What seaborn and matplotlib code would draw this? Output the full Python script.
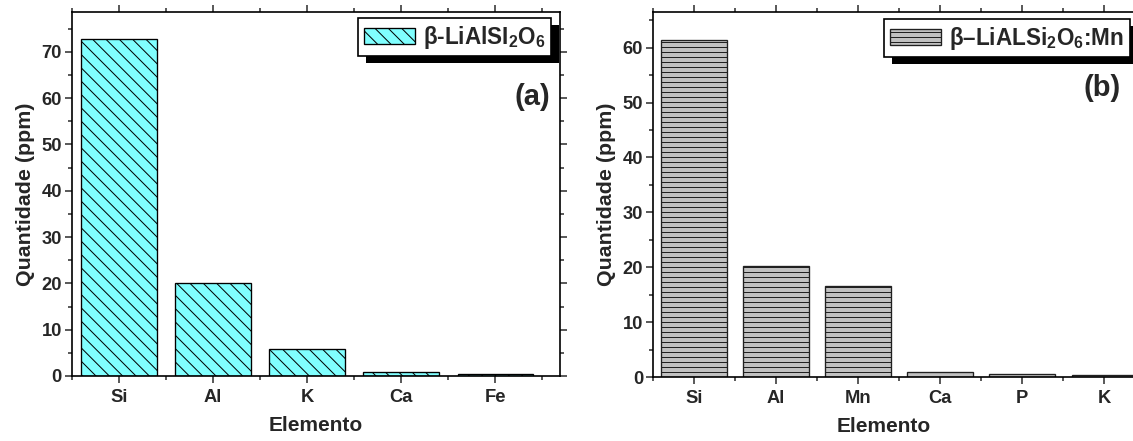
import matplotlib
matplotlib.use("Agg")
import matplotlib.pyplot as plt
import seaborn as sns
import pandas as pd
from matplotlib.patches import Rectangle
from matplotlib.transforms import IdentityTransform
from matplotlib.ticker import MultipleLocator, FixedLocator

# ---- data ----
elements_a = ["Si", "Al", "K", "Ca", "Fe"]
values_a = [72.8, 20.1, 5.8, 0.8, 0.35]
label_a = "β-LiAlSI$_2$O$_6$"

elements_b = ["Si", "Al", "Mn", "Ca", "P", "K"]
values_b = [61.4, 20.2, 16.5, 1.0, 0.5, 0.3]
label_b = "β–LiALSi$_2$O$_6$:Mn"

xlabel = "Elemento"
ylabel = "Quantidade (ppm)"

sns.set_style("ticks")
plt.rcParams["font.family"] = ["Liberation Sans", "DejaVu Sans"]
plt.rcParams["font.weight"] = "bold"
plt.rcParams["axes.labelweight"] = "bold"
plt.rcParams["mathtext.fontset"] = "custom"
plt.rcParams["mathtext.rm"] = "Liberation Sans:bold"
plt.rcParams["mathtext.default"] = "rm"
plt.rcParams["hatch.linewidth"] = 0.6

W, H, DPI = 1133, 441, 120
fig = plt.figure(figsize=(W / DPI, H / DPI), dpi=DPI)


def px_rect(x0, x1, ytop, ybot):
    return [x0 / W, 1 - ybot / H, (x1 - x0) / W, (ybot - ytop) / H]


ax1 = fig.add_axes(px_rect(72, 560, 12, 376))
ax2 = fig.add_axes(px_rect(653, 1161, 12, 377))

df_a = pd.DataFrame({"el": elements_a, "v": values_a})
df_b = pd.DataFrame({"el": elements_b, "v": values_b})

sns.barplot(data=df_a, x="el", y="v", color="#80FFFF", saturation=1,
            edgecolor="black", linewidth=0.8, width=0.8, ax=ax1)
sns.barplot(data=df_b, x="el", y="v", color="#C0C0C0", saturation=1,
            edgecolor="#202020", linewidth=0.8, width=0.8, ax=ax2)
for p in ax1.patches:
    p.set_hatch("\\\\\\")
for p in ax2.patches:
    p.set_hatch("----")

ax1.set_xlim(-0.5, 4.69)
ax1.set_ylim(0, 78.6)
ax2.set_xlim(-0.5, 5.69)
ax2.set_ylim(0, 66.5)

for ax, n in ((ax1, len(elements_a)), (ax2, len(elements_b))):
    ax.yaxis.set_major_locator(MultipleLocator(10))
    ax.yaxis.set_minor_locator(MultipleLocator(5))
    ax.xaxis.set_minor_locator(FixedLocator([i - 0.5 for i in range(n + 1)]))
    for s in ax.spines.values():
        s.set_visible(True)
        s.set_linewidth(1.0)
        s.set_color("black")
    ax.tick_params(which="major", direction="out", length=4, width=0.9,
                   top=True, right=True, labeltop=False, labelright=False)
    ax.tick_params(which="minor", direction="out", length=2.2, width=0.9,
                   top=True, right=True)
    ax.tick_params(axis="y", which="major", pad=2, labelsize=11)
    ax.tick_params(axis="x", which="major", pad=4, labelsize=11)
    for t in ax.get_xticklabels() + ax.get_yticklabels():
        t.set_fontweight("bold")
    ax.set_xlabel(xlabel, fontsize=12.5, fontweight="bold", labelpad=6)
    ax.set_ylabel(ylabel, fontsize=12.8, fontweight="bold", labelpad=4)

ax2.xaxis.label.set_x((884 - 653) / 508)


def add_legend(ax, label, left_px, top_px):
    leg = ax.legend(handles=[ax.patches[0]], labels=[label], loc="upper left",
                    bbox_to_anchor=(left_px / W, 1 - top_px / H),
                    bbox_transform=fig.transFigure, borderaxespad=0,
                    fancybox=False, framealpha=1, edgecolor="black",
                    prop={"size": 13.5, "weight": "bold"},
                    handlelength=2.3, handleheight=0.7, handletextpad=0.35,
                    borderpad=0.25)
    leg.get_frame().set_linewidth(1.0)
    leg.set_zorder(5)
    return leg


leg1 = add_legend(ax1, label_a, 358, 18)
leg2 = add_legend(ax2, label_b, 884, 19)

ax1.text((550 - 72) / 488, 1 - (97 - 12) / 364, "(a)", transform=ax1.transAxes,
         ha="right", va="center", fontsize=17.5, fontweight="bold")
ax2.text((1121 - 653) / 508, 1 - (88 - 12) / 365, "(b)", transform=ax2.transAxes,
         ha="right", va="center", fontsize=17.5, fontweight="bold")

fig.canvas.draw()
for ax, leg in ((ax1, leg1), (ax2, leg2)):
    bb = leg.get_window_extent(fig.canvas.get_renderer())
    sh = Rectangle((bb.x0 + 8, bb.y0 - 7), bb.width, bb.height,
                   transform=IdentityTransform(), facecolor="black",
                   edgecolor="none", clip_on=False, zorder=4.5)
    ax.add_artist(sh)

fig.savefig("out.png", dpi=DPI)
